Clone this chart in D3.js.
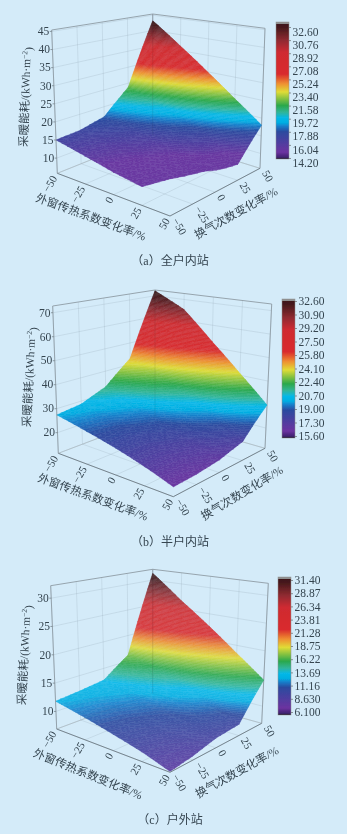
<!DOCTYPE html>
<html><head><meta charset="utf-8">
<script src="https://cdn.jsdelivr.net/npm/d3@7/dist/d3.min.js"></script>
<style>
html,body{margin:0;padding:0;background:#d4ebf9;overflow:hidden}
svg{display:block}
svg text{font-family:"Liberation Serif","DejaVu Serif",serif;fill:#34444f}
svg text.cjk{font-family:"Liberation Serif","Noto Sans CJK SC",sans-serif}
</style></head><body>
<script>
// ---------- data ----------
const windowChange = [-50,-25,0,25,50];   // 外窗传热系数变化率/%
const airChange    = [-50,-25,0,25,50];   // 换气次数变化率/%
// rows: airChange -50 → 50, columns: windowChange -50 → 50
const energyA = [
  [15.0,13.0,11.2,10.0, 8.5],
  [15.4,13.6,11.8,10.3, 9.0],
  [17.0,15.2,13.2,11.0, 9.3],
  [23.7,21.0,18.0,14.5,10.0],
  [43.2,36.4,29.9,23.7,18.0]];
const energyB = [
  [27.4,24.0,20.9,17.7,14.4],
  [28.7,24.7,21.0,17.8,14.8],
  [33.0,27.5,23.0,19.0,15.9],
  [42.8,38.0,31.5,25.0,18.7],
  [72.4,65.3,52.5,40.8,29.8]];
const energyC = [
  [11.8,10.6, 9.4, 8.3, 7.0],
  [12.2,10.9, 9.7, 8.6, 7.5],
  [12.8,11.6,10.4, 9.4, 8.4],
  [16.2,14.8,13.0,11.0, 8.8],
  [31.4,26.7,22.6,18.5,14.7]];
const zTicksA = [10,15,20,25,30,35,40,45];
const zTicksB = [20,30,40,50,60,70];
const zTicksC = [10,15,20,25,30];
const barLabelsA = ["14.20","16.04","17.88","19.72","21.58","23.40","25.24","27.08","28.92","30.76","32.60"];
const barLabelsB = ["15.60","17.30","19.00","20.70","22.40","24.10","25.80","27.50","29.20","30.90","32.60"];
const barLabelsC = ["6.100","8.630","11.16","13.69","16.22","18.75","21.28","23.81","26.34","28.87","31.40"];
const captions = ["（a）全户内站","（b）半户内站","（c）户外站"];
const windowTitle = "外窗传热系数变化率/%";
const airTitle = "换气次数变化率/%";
// colormap: position along the bar → colour
const rampPos = [0,0.012,0.05,0.2,0.24,0.265,0.30,0.34,0.39,0.49,0.55,0.62,0.78,0.87,0.96,1];
const rampCol = ["#17101c","#3f2270","#6c33a0","#2b4a9f","#1680cc","#00aee2","#06b8e8","#30b59a","#2ba84b","#e0dc36","#ef8f30","#d92a2d","#cf2c30","#8d2a30","#46191c","#3a1618"];

// ---------- layout of the three panels ----------
const panels = [
 {data:energyA,zTicks:zTicksA,bar:barLabelsA,cap:captions[0],zDom:[5.8,45.4],colorDom:[10,43.2],clip:10,op:.98,
  floor:{L:[57.3,173.3],F:[170,216],R:[260,168.3],B:[152.7,135]},
  top:{L:[51.7,30],F:[172,30],R:[265,28.3],B:[152.7,14]},
  barBox:[276,22,13,137],barT:[158,27],lblShift:4.5,
  uTitle:[91,217,20],aTitle:[236,213,-29],yTitle:[25,97,-88],capY:261},
 {data:energyB,zTicks:zTicksB,bar:barLabelsB,cap:captions[1],zDom:[11.4,72.8],colorDom:[11.2,72.4],clip:-1,op:.98,
  floor:{L:[58.3,453.3],F:[173.3,496.7],R:[265,448.3],B:[155,416.7]},
  top:{L:[52.7,306],F:[176,296],R:[271.7,304],B:[155,290]},
  barBox:[282,299,13,139],barT:[436,301],lblShift:0,
  uTitle:[93,497,20],aTitle:[242,493,-31],yTitle:[29,377,-87],capY:542},
 {data:energyC,zTicks:zTicksC,bar:barLabelsC,cap:captions[2],zDom:[6.9,32.2],colorDom:[4.7,31.4],clip:-1,op:.9,
  floor:{L:[56.7,729],F:[170,772.3],R:[261.7,723.3],B:[152.7,693.3]},
  top:{L:[50.7,585.7],F:[172,585],R:[268.3,583.3],B:[152.7,569.3]},
  barBox:[278,577,13,138],barT:[712,580],lblShift:0,
  uTitle:[88,774,22],aTitle:[237,772,-29],yTitle:[24,655,-87],capY:820}
];

const W=347,H=834,SUB=5,LEVELS=110,SURF_MIN=0.06;
const svg=d3.select("body").append("svg").attr("width",W).attr("height",H);
const defs=svg.append("defs");
defs.append("filter").attr("id","soft").attr("x","-5%").attr("y","-5%").attr("width","110%").attr("height","110%")
  .append("feGaussianBlur").attr("stdDeviation",0.4);
const root=svg.append("g").attr("filter","url(#soft)");
root.append("rect").attr("width",W).attr("height",H).attr("fill","#d4ebf9");

const rampScale=d3.scaleLinear().domain(rampPos).range(rampCol).interpolate(d3.interpolateRgb).clamp(true);

panels.forEach((p,pi)=>{
  const g=root.append("g");
  const us=d3.scaleLinear().domain([-50,50]).range([0,1]);
  const as=d3.scaleLinear().domain([-50,50]).range([0,1]);
  const zs=d3.scaleLinear().domain(p.zDom).range([0,1]);
  const cs=d3.scaleLinear().domain(p.colorDom).range([0,1]).clamp(true);
  const surfColor=z=>rampScale(Math.max(SURF_MIN,cs(z)));
  const lerp=(a,b,t)=>[a[0]+(b[0]-a[0])*t,a[1]+(b[1]-a[1])*t];
  const f=p.floor,t=p.top;
  const proj=(u,a,z)=>{
    const U=us(u),A=as(a),Z=zs(z);
    const fl=lerp(lerp(f.L,f.F,U),lerp(f.B,f.R,U),A);
    const tp=lerp(lerp(t.L,t.F,U),lerp(t.B,t.R,U),A);
    return lerp(fl,tp,Z);
  };
  const [z0,z1]=p.zDom;
  const line=d3.line();
  const seg=(pts,col,w)=>g.append("path").attr("d",line(pts)).attr("fill","none").attr("stroke",col).attr("stroke-width",w);
  const gridCol="rgba(140,160,175,.28)", frameCol="#8f9ca5", axisCol="#6d7a83";
  p.zTicks.forEach(z=>{
    seg([proj(-50,-50,z),proj(-50,50,z),proj(50,50,z)],gridCol,.8);
  });
  windowChange.forEach(u=>{
    seg([proj(u,50,z0),proj(u,50,z1)],gridCol,.8);
    seg([proj(u,-50,z0),proj(u,50,z0)],gridCol,.8);
  });
  airChange.forEach(a=>{
    seg([proj(-50,a,z0),proj(-50,a,z1)],gridCol,.8);
    seg([proj(-50,a,z0),proj(50,a,z0)],gridCol,.8);
  });
  seg([proj(-50,-50,z1),proj(-50,50,z1),proj(50,50,z1)],frameCol,.9);
  seg([proj(-50,50,z0),proj(-50,50,z1)],frameCol,.7);
  seg([proj(50,50,z0),proj(50,50,z1)],frameCol,.9);
  seg([proj(-50,-50,z0),proj(-50,50,z0),proj(50,50,z0)],"#aab7bf",.7);

  // surface: data cells split into triangles and cut into thin iso-bands, painted from low to high
  const surf=g.append("g").attr("opacity",p.op);
  const bil=(i,j,s,r)=>{
    const d=p.data;
    const a=d[j][i],b=d[j][i+1],c=d[j+1][i],e=d[j+1][i+1];
    return a*(1-s)*(1-r)+b*s*(1-r)+c*(1-s)*r+e*s*r;
  };
  const clipPoly=(poly,c,sign)=>{
    const out=[];
    poly.forEach((v,k)=>{
      const w=poly[(k+1)%poly.length];
      const vi=sign*(v[2]-c)>=0, wi=sign*(w[2]-c)>=0;
      if(vi) out.push(v);
      if(vi!==wi){
        const q=(c-v[2])/(w[2]-v[2]);
        out.push([v[0]+(w[0]-v[0])*q,v[1]+(w[1]-v[1])*q,c]);
      }
    });
    return out;
  };
  const allZ=p.data.flat();
  const zBase=Math.max(d3.min(allZ),p.clip);
  const step=(d3.max(allZ)-zBase)/LEVELS;
  const bands=[];
  const addTri=tri=>{
    const lo=Math.floor((d3.min(tri,v=>v[2])-zBase)/step), hi=Math.ceil((d3.max(tri,v=>v[2])-zBase)/step);
    for(let k=lo;k<hi;k++){
      const zl=zBase+k*step, zh=zl+step;
      let poly=clipPoly(tri,zl,1);
      if(poly.length>2) poly=clipPoly(poly,zh,-1);
      if(poly.length>2) bands.push({poly,z:zl+step/2});
    }
  };
  for(let i=0;i<windowChange.length-1;i++){
    for(let j=airChange.length-2;j>=0;j--){
      const u0=windowChange[i],u1=windowChange[i+1],a0=airChange[j],a1=airChange[j+1];
      for(let m=0;m<SUB;m++)for(let n=SUB-1;n>=0;n--){
        const pt=(mm,nn)=>[u0+(u1-u0)*mm/SUB,a0+(a1-a0)*nn/SUB,bil(i,j,mm/SUB,nn/SUB)];
        const q=[pt(m,n),pt(m+1,n),pt(m+1,n+1),pt(m,n+1)];
        const tris=[[q[0],q[1],q[2]],[q[0],q[2],q[3]]];
        tris.forEach(tr=>{
          const cl=clipPoly(tr,p.clip,1);
          if(cl.length>2) for(let x=1;x<cl.length-1;x++) addTri([cl[0],cl[x],cl[x+1]]);
        });
      }
    }
  }
  bands.sort((a,b)=>a.z-b.z);
  surf.selectAll("path").data(bands).join("path")
    .attr("d",b=>line(b.poly.map(v=>proj(v[0],v[1],v[2])))+"Z")
    .attr("fill",b=>surfColor(b.z))
    .attr("stroke",b=>surfColor(b.z))
    .attr("stroke-width",.4).attr("stroke-linejoin","round");

  seg([proj(-50,50,z0),proj(-50,50,z1)],"rgba(60,70,80,.12)",.7);
  seg([proj(-50,-50,z0),proj(50,-50,z0),proj(50,50,z0)],axisCol,.9);
  seg([proj(-50,-50,z0),proj(-50,-50,z1)],frameCol,.9);

  p.zTicks.forEach(z=>{
    const q=proj(-50,-50,z);
    seg([q,[q[0]-2,q[1]]],axisCol,.7);
    g.append("text").attr("x",q[0]-2.5).attr("y",q[1]).attr("dy",".33em")
      .attr("text-anchor","end").attr("font-size",11.5).text(z);
  });
  const minus=v=>(v<0?"−":"")+Math.abs(v);
  windowChange.forEach(u=>{
    const q=proj(u,-50,z0);
    g.append("text").attr("transform",`translate(${q[0]-3},${q[1]+3}) rotate(-60)`)
      .attr("text-anchor","end").attr("dy",".33em").attr("font-size",11).text(minus(u));
  });
  airChange.forEach(a=>{
    const q=proj(50,a,z0);
    g.append("text").attr("transform",`translate(${q[0]+5},${q[1]+3}) rotate(60)`)
      .attr("text-anchor","start").attr("dy",".33em").attr("font-size",11).text(minus(a));
  });
  const title=(pos,str,size)=>g.append("text").attr("class","cjk")
    .attr("transform",`translate(${pos[0]},${pos[1]}) rotate(${pos[2]})`)
    .attr("text-anchor","middle").attr("dy",".35em").attr("font-size",size).text(str);
  title(p.uTitle,windowTitle,11.5);
  title(p.aTitle,airTitle,11.5);
  const yt=title(p.yTitle,"采暖能耗/(kWh·m",11.5);
  yt.append("tspan").attr("dy","-.45em").attr("font-size",7.5).text("−2");
  yt.append("tspan").attr("dy",".45em").text(")");

  const [bx,by,bw,bh]=p.barBox;
  const gid="ramp"+pi;
  const lg=defs.append("linearGradient").attr("id",gid).attr("x1",0).attr("x2",0).attr("y1",1).attr("y2",0);
  rampPos.forEach((o,k)=>lg.append("stop").attr("offset",o).attr("stop-color",rampCol[k]));
  g.append("rect").attr("x",bx).attr("y",by).attr("width",bw).attr("height",bh).attr("fill",`url(#${gid})`).attr("stroke","#8e8e8e").attr("stroke-width",.5);
  g.append("rect").attr("x",bx).attr("y",by).attr("width",bw).attr("height",2).attr("fill","#8f8f8f");
  const barScale=d3.scalePoint().domain(p.bar).range(p.barT);
  const ax=g.append("g").attr("transform",`translate(${bx+bw},0)`)
    .call(d3.axisRight(barScale).tickSize(2).tickPadding(1.5));
  ax.attr("font-family",null).attr("font-size",null);
  ax.select(".domain").remove();
  ax.selectAll("line").attr("stroke","#555").attr("stroke-width",.6);
  ax.selectAll("text").attr("font-size",11.5).attr("dy",".32em").attr("y",p.lblShift);

  g.append("text").attr("class","cjk").attr("x",170).attr("y",p.capY).attr("text-anchor","middle")
    .attr("dy",".35em").attr("font-size",12).text(p.cap);
});
</script>
</body></html>
